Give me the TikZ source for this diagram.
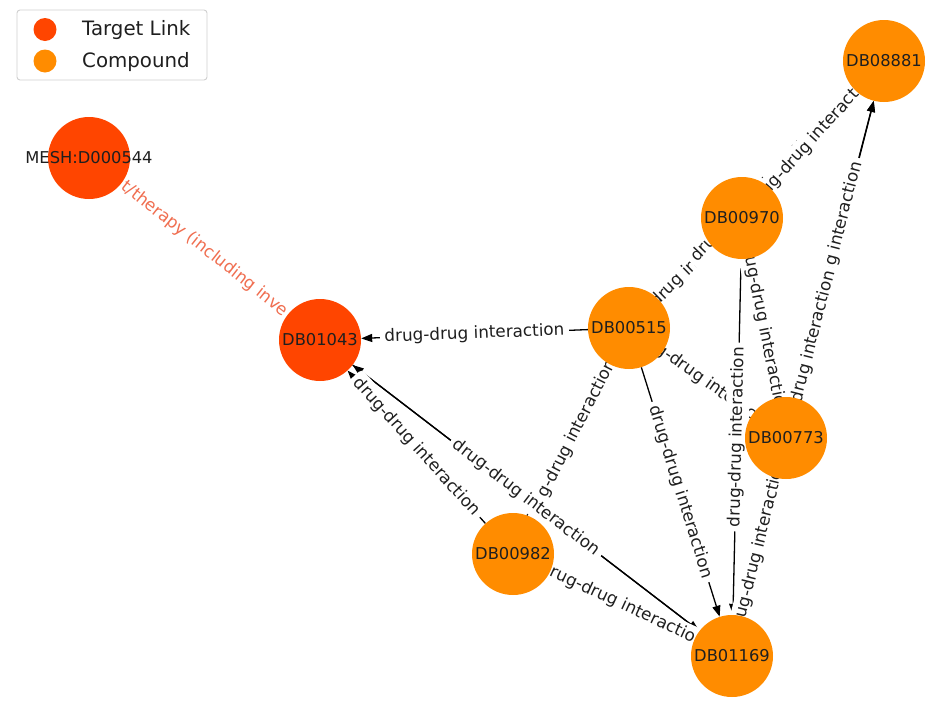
\documentclass[tikz,border=0pt]{standalone}
\usepackage{fontspec}
\setmainfont{DejaVu Sans}
\usetikzlibrary{arrows.meta}
\definecolor{targetc}{HTML}{FF4500}
\definecolor{compc}{HTML}{FF8C00}
\definecolor{targetlbl}{RGB}{240,110,80}
\definecolor{txt}{HTML}{1F1F1F}
\definecolor{legendframe}{HTML}{D0D0D0}
\pgfdeclarelayer{edges}
\pgfdeclarelayer{labels}
\pgfsetlayers{edges,labels,main}
% vertex text may run past the disc without enlarging it
\newcommand{\vtxname}[1]{\makebox[0pt]{#1}}

\begin{document}
\begin{tikzpicture}[x=1pt,y=-1pt,
  vtx/.style={circle, minimum size=82pt, inner sep=0pt, text=txt,
    font=\fontsize{16.3}{18}\selectfont},
  target/.style={vtx, fill=targetc},
  compound/.style={vtx, fill=compc},
  link/.style={line width=1.3pt, draw=black,
    -{Triangle[length=11pt,width=8pt]}},
  tlink/.style={link, draw=targetc},
  elabel/.style={sloped, midway, fill=white, rounded corners=4pt,
    inner xsep=4.5pt, inner ysep=3.5pt, text height=12.5pt, text depth=3.5pt,
    font=\fontsize{16.8}{18}\selectfont, text=txt},
  legdot/.style={circle, inner sep=0pt, minimum size=23pt},
  legtext/.style={anchor=base west, inner sep=0pt, text=txt,
    font=\fontsize{19.8}{22}\selectfont},
]
\useasboundingbox (0,0) rectangle (940,702);

% ---- vertices ----
\node[target]   (mesh)    at (89,158)  {\vtxname{MESH:D000544}};
\node[target]   (db01043) at (320,340) {\vtxname{DB01043}};
\node[compound] (db00515) at (629,328) {\vtxname{DB00515}};
\node[compound] (db00970) at (742,218) {\vtxname{DB00970}};
\node[compound] (db08881) at (884,61)  {\vtxname{DB08881}};
\node[compound] (db00773) at (786,438) {\vtxname{DB00773}};
\node[compound] (db00982) at (513,554) {\vtxname{DB00982}};
\node[compound] (db01169) at (732,656) {\vtxname{DB01169}};

% ---- connectors ----
\begin{pgfonlayer}{edges}
  \draw[tlink] (mesh) -- (db01043);
  \draw[link] (db00515) -- (db01043);
  \draw[link] (db00982) -- (db01043);
  \draw[link] (db01169) -- (db01043);
  \draw[link] (db01043) -- (db01169);
  \draw[link] (db00515) -- (db00982);
  \draw[link] (db00515) -- (db01169);
  \draw[link] (db00515) -- (db00970);
  \draw[link] (db00515) -- (db08881);
  \draw[link] (db00970) -- (db08881);
  \draw[link] (db00515) -- (db00773);
  \draw[link] (db00970) -- (db01169);
  \draw[link] (db00970) -- (db00773);
  \draw[link] (db00773) -- (db08881);
  \draw[link] (db01169) -- (db08881);
  \draw[link] (db00773) -- (db01169);
  \draw[link] (db00982) -- (db01169);
\end{pgfonlayer}

% ---- connector labels (later ones overlap earlier ones) ----
\begin{pgfonlayer}{labels}
  \path (mesh.center) -- (db01043.center)
    node[elabel, text=targetlbl] {t/therapy (including inve};
  \path (db00515.center) -- (db00982.center) node[elabel] {drug-drug interaction};
  \path (db00515.center) -- (db00970.center) node[elabel] {drug-drug interaction};
  \path (db00515.center) -- (db08881.center) node[elabel] {drug-drug interaction};
  \path (db00970.center) -- (db08881.center) node[elabel] {drug-drug interaction};
  \path (db00515.center) -- (db00773.center) node[elabel] {drug-drug interaction};
  \path (db00970.center) -- (db01169.center) node[elabel] {drug-drug interaction};
  \path (db00970.center) -- (db00773.center) node[elabel] {drug-drug interaction};
  \path (db00773.center) -- (db08881.center) node[elabel] {drug-drug interaction};
  \path (db01169.center) -- (db08881.center) node[elabel] {drug-drug interaction};
  \path (db00773.center) -- (db01169.center) node[elabel] {drug-drug interaction};
  \path (db00515.center) -- (db01043.center) node[elabel] {drug-drug interaction};
  \path (db00982.center) -- (db01043.center) node[elabel] {drug-drug interaction};
  \path (db01169.center) -- (db01043.center) node[elabel] {drug-drug interaction};
  \path (db00515.center) -- (db01169.center) node[elabel] {drug-drug interaction};
  \path (db00982.center) -- (db01169.center) node[elabel] {drug-drug interaction};
\end{pgfonlayer}

% ---- legend ----
\node[draw=legendframe, line width=0.9pt, fill=white, rounded corners=3pt,
  minimum width=190pt, minimum height=70pt, inner sep=0pt] (legend) at (112,45) {};
\node[legdot, fill=targetc] (legT) at (45,29.5) {};
\node[legdot, fill=compc]   (legC) at (45,61) {};
\node[legtext] (legTtext) at (82,35) {Target Link};
\node[legtext] (legCtext) at (82,67) {Compound};
\end{tikzpicture}
\end{document}
